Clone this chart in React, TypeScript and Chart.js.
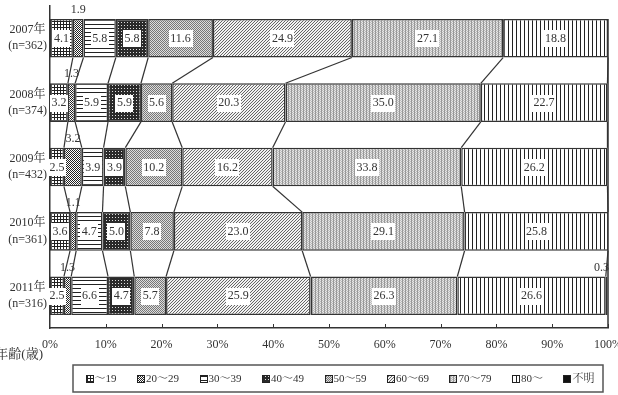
import React, { useEffect, useRef } from 'react';
import { Chart, registerables } from 'chart.js';

Chart.register(...registerables);

const years = ['2007年', '2008年', '2009年', '2010年', '2011年'];
const sampleSizes = ['(n=362)', '(n=374)', '(n=432)', '(n=361)', '(n=316)'];
const ageGroups = ['～19', '20～29', '30～39', '40～49', '50～59', '60～69', '70～79', '80～', '不明'];
const under19 = [4.1, 3.2, 2.5, 3.6, 2.5];
const age20s = [1.9, 1.3, 3.2, 1.1, 1.3];
const age30s = [5.8, 5.9, 3.9, 4.7, 6.6];
const age40s = [5.8, 5.9, 3.9, 5.0, 4.7];
const age50s = [11.6, 5.6, 10.2, 7.8, 5.7];
const age60s = [24.9, 20.3, 16.2, 23.0, 25.9];
const age70s = [27.1, 35.0, 33.8, 29.1, 26.3];
const age80plus = [18.8, 22.7, 26.2, 25.8, 26.6];
const unknownAge = [0, 0, 0, 0, 0.3];
const seriesValues = [under19, age20s, age30s, age40s, age50s, age60s, age70s, age80plus, unknownAge];
const axisTitle = '年齢(歳)';
// series whose value labels sit above the bar
const labelAboveSeries = [1, 8];

const FONT = "'Liberation Serif', 'Noto Serif CJK JP', 'Noto Sans CJK JP', serif";
const INK = '#333';

type Painter = (c: CanvasRenderingContext2D) => void;

function makePattern(ctx: CanvasRenderingContext2D, w: number, h: number, draw: Painter, bg = '#fff') {
  const cv = document.createElement('canvas');
  cv.width = w;
  cv.height = h;
  const c = cv.getContext('2d')!;
  c.fillStyle = bg;
  c.fillRect(0, 0, w, h);
  draw(c);
  return ctx.createPattern(cv, 'repeat')!;
}

function px(c: CanvasRenderingContext2D, x: number, y: number, col: string, w = 1, h = 1) {
  c.fillStyle = col;
  c.fillRect(x, y, w, h);
}

function buildPatterns(ctx: CanvasRenderingContext2D): (CanvasPattern | string)[] {
  return [
    // ~19 : plaid grid
    makePattern(ctx, 3, 3, (c) => {
      px(c, 0, 0, '#222', 3, 1);
      px(c, 0, 0, '#222', 1, 3);
    }),
    // 20~29 : fine checker
    makePattern(ctx, 2, 2, (c) => {
      px(c, 0, 0, '#222');
      px(c, 1, 1, '#222');
    }),
    // 30~39 : horizontal lines
    makePattern(ctx, 4, 4, (c) => {
      px(c, 0, 0, '#222', 4, 1);
    }),
    // 40~49 : dark dotted
    makePattern(ctx, 3, 3, (c) => {
      px(c, 0, 0, '#2a2a2a', 3, 3);
      px(c, 1, 1, '#ddd');
    }),
    // 50~59 : gray checker
    makePattern(ctx, 2, 2, (c) => {
      px(c, 0, 0, '#777');
      px(c, 1, 1, '#777');
      px(c, 1, 0, '#ddd');
      px(c, 0, 1, '#ddd');
    }),
    // 60~69 : diagonal lines
    makePattern(ctx, 3, 3, (c) => {
      px(c, 2, 0, '#666');
      px(c, 1, 1, '#666');
      px(c, 0, 2, '#666');
    }, '#f2f2f2'),
    // 70~79 : light gray fine vertical texture
    makePattern(ctx, 3, 2, (c) => {
      px(c, 0, 0, '#999', 1, 2);
      px(c, 1, 0, '#bbb');
      px(c, 2, 1, '#bbb');
      px(c, 1, 1, '#e6e6e6');
      px(c, 2, 0, '#e6e6e6');
    }),
    // 80~ : vertical lines
    makePattern(ctx, 4, 1, (c) => {
      px(c, 0, 0, '#222');
    }),
    '#111',
  ];
}

const overlayPlugin = {
  id: 'overlay',
  afterDatasetsDraw(chart: any) {
    const ctx: CanvasRenderingContext2D = chart.ctx;
    const area = chart.chartArea;
    const metas = seriesValues.map((_, k) => chart.getDatasetMeta(k));
    const rows = years.length;
    ctx.save();
    // connectors between consecutive bars
    ctx.strokeStyle = INK;
    ctx.lineWidth = 1.2;
    for (let i = 0; i < rows - 1; i++) {
      for (let k = 0; k < seriesValues.length - 1; k++) {
        const a = metas[k].data[i];
        const b = metas[k].data[i + 1];
        ctx.beginPath();
        ctx.moveTo(Math.min(a.x, area.right), a.y + a.height / 2);
        ctx.lineTo(Math.min(b.x, area.right), b.y - b.height / 2);
        ctx.stroke();
      }
    }
    // right border of the 100% frame
    const first = metas[0].data[0];
    const xs = chart.scales.x;
    const x100 = xs.getPixelForValue(100);
    ctx.lineWidth = 1.5;
    ctx.beginPath();
    ctx.moveTo(x100, first.y - first.height / 2);
    ctx.lineTo(x100, area.bottom);
    ctx.stroke();

    // value labels
    ctx.font = `12px ${FONT}`;
    ctx.textBaseline = 'middle';
    ctx.textAlign = 'center';
    for (let k = 0; k < seriesValues.length; k++) {
      for (let i = 0; i < rows; i++) {
        const v = seriesValues[k][i];
        if (!v) continue;
        const el = metas[k].data[i];
        const txt = v.toFixed(1);
        const w = ctx.measureText(txt).width;
        let cx = (el.base + el.x) / 2;
        if (cx + w / 2 > area.right + 1) cx = area.right + 1 - w / 2;
        if (labelAboveSeries.includes(k)) {
          ctx.fillStyle = INK;
          ctx.fillText(txt, cx, el.y - el.height / 2 - 9);
        } else {
          ctx.fillStyle = '#fff';
          ctx.fillRect(Math.round(cx - w / 2 - 1.5), Math.round(el.y - 8), Math.round(w + 3), 17);
          ctx.fillStyle = INK;
          ctx.fillText(txt, cx, el.y + 0.5);
        }
      }
    }
    ctx.restore();
  },
  afterDraw(chart: any) {
    const ctx: CanvasRenderingContext2D = chart.ctx;
    const area = chart.chartArea;
    const xs = chart.scales.x;
    ctx.save();
    // inward tick marks
    ctx.strokeStyle = INK;
    ctx.lineWidth = 1;
    xs.ticks.forEach((t: any) => {
      if (t.value === 0) return;
      const x = Math.round(xs.getPixelForValue(t.value)) + 0.5;
      ctx.beginPath();
      ctx.moveTo(x, area.bottom - 4);
      ctx.lineTo(x, area.bottom);
      ctx.stroke();
    });
    // axis title
    ctx.font = `13px ${FONT}`;
    ctx.fillStyle = INK;
    ctx.textAlign = 'right';
    ctx.textBaseline = 'middle';
    ctx.fillText(axisTitle, area.left - 7, area.bottom + 27);

    // legend
    ctx.font = `11px ${FONT}`;
    const boxL = area.left + 23;
    const boxR = area.right - 5;
    const boxT = chart.height - 30;
    const boxB = chart.height - 3;
    ctx.lineWidth = 1.5;
    ctx.strokeStyle = '#555';
    ctx.strokeRect(boxL, boxT, boxR - boxL, boxB - boxT);
    const icon = 8;
    const gap = 20.5;
    const widths = ageGroups.map((g) => icon + 1 + ctx.measureText(g).width);
    const total = widths.reduce((s, w) => s + w, 0) + gap * (ageGroups.length - 1);
    let x = (boxL + boxR) / 2 - total / 2 + 2;
    const cy = (boxT + boxB) / 2;
    ctx.textAlign = 'left';
    ageGroups.forEach((g, k) => {
      const ds = chart.data.datasets[k];
      ctx.fillStyle = ds.backgroundColor;
      ctx.fillRect(Math.round(x), Math.round(cy - icon / 2), icon, icon);
      ctx.lineWidth = 1;
      ctx.strokeStyle = '#222';
      ctx.strokeRect(Math.round(x) + 0.5, Math.round(cy - icon / 2) + 0.5, icon - 1, icon - 1);
      ctx.fillStyle = INK;
      ctx.fillText(g, x + icon + 1, cy + 0.5);
      x += widths[k] + gap;
    });
    ctx.restore();
  },
};

export default function App() {
  const ref = useRef<HTMLCanvasElement>(null);
  useEffect(() => {
    const canvas = ref.current!;
    const ctx = canvas.getContext('2d')!;
    const patterns = buildPatterns(ctx);
    const chart = new Chart(canvas, {
      type: 'bar',
      data: {
        labels: years,
        datasets: ageGroups.map((g, k) => ({
          label: g,
          data: seriesValues[k],
          backgroundColor: patterns[k] as any,
          borderColor: '#333',
          borderWidth: 1.5,
          borderSkipped: false,
          categoryPercentage: 0.6,
          barPercentage: 1,
        })),
      },
      options: {
        indexAxis: 'y',
        animation: false,
        responsive: false,
        maintainAspectRatio: false,
        layout: { padding: { top: 6, right: 10, left: 0, bottom: 0 } },
        plugins: { legend: { display: false }, tooltip: { enabled: false } },
        scales: {
          x: {
            stacked: true,
            min: 0,
            max: 100,
            grid: { display: false, drawTicks: false },
            border: { display: true, color: INK, width: 1.5 },
            ticks: {
              stepSize: 10,
              padding: 10,
              color: INK,
              font: { family: FONT, size: 12 },
              callback: (v: any) => `${v}%`,
            },
            afterFit: (s: any) => {
              s.height = 67;
              s.paddingLeft = 0;
              s.paddingRight = 0;
            },
          },
          y: {
            stacked: true,
            grid: { display: false, drawTicks: false },
            border: { display: true, color: INK, width: 1.5 },
            ticks: {
              padding: 3,
              color: INK,
              crossAlign: 'center',
              font: { family: FONT, size: 12, lineHeight: 1.35 },
              callback: (_v: any, i: number) => [years[i], sampleSizes[i]],
            },
            afterFit: (s: any) => {
              s.width = 50;
              s.paddingTop = 0;
              s.paddingBottom = 0;
            },
          },
        },
      },
      plugins: [overlayPlugin],
    });
    return () => chart.destroy();
  }, []);
  return (
    <div style={{ position: 'fixed', left: 0, top: 0, width: 618, height: 395, background: '#fff' }}>
      <canvas ref={ref} width={618} height={395} style={{ width: 618, height: 395, display: 'block' }} />
    </div>
  );
}
